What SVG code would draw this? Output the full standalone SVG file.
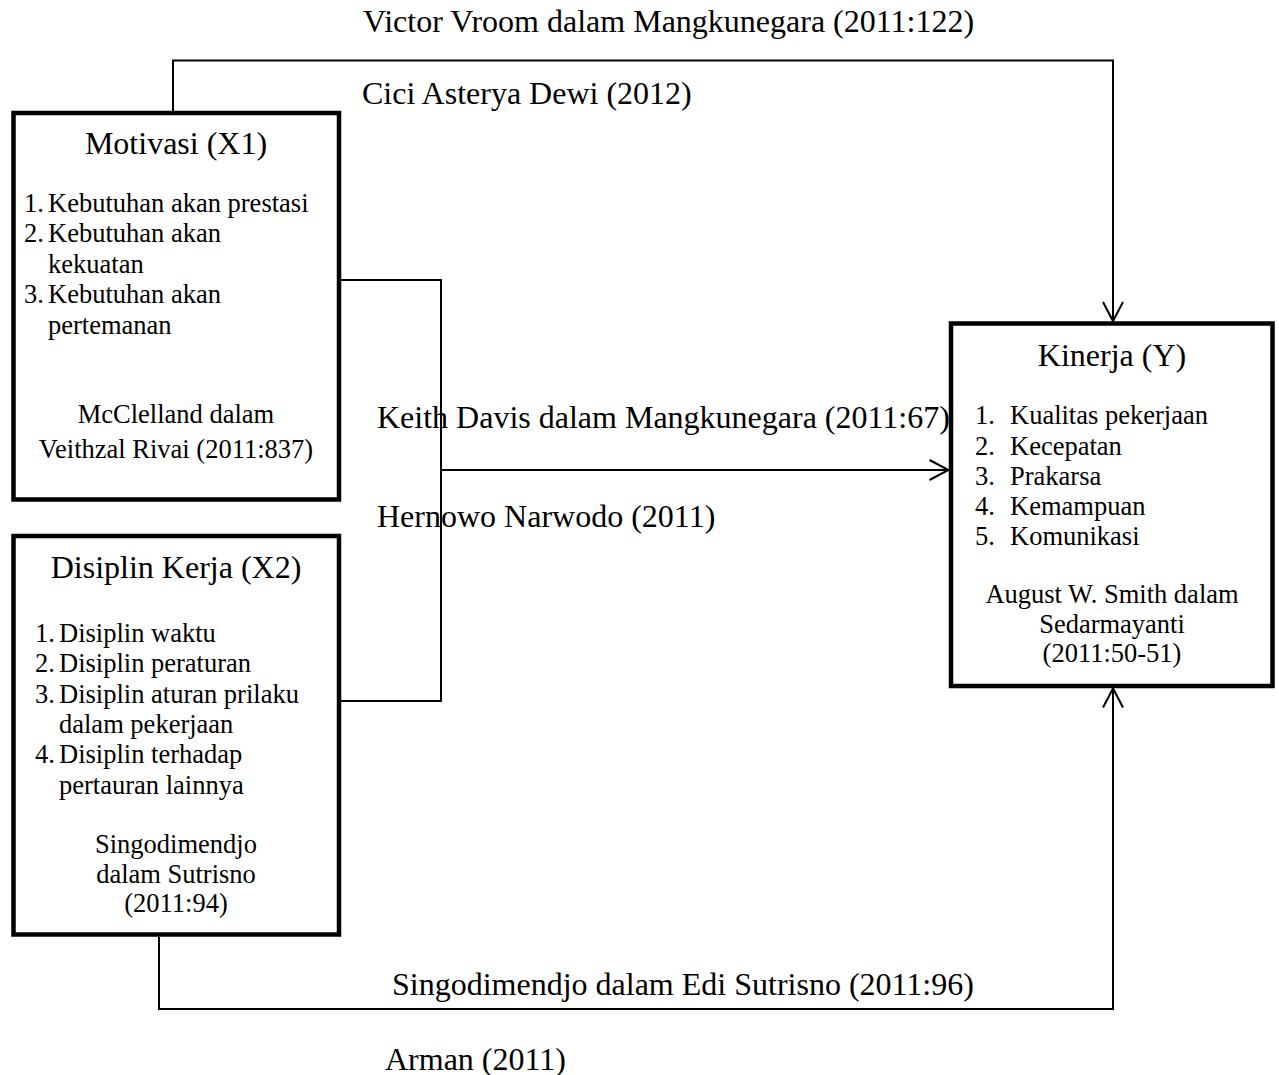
<svg xmlns="http://www.w3.org/2000/svg" width="1279" height="1075" viewBox="0 0 1279 1075">
<style>
text{font-family:"Liberation Serif","Times New Roman",serif;fill:#000}
.t{font-size:32px}
.b{font-size:26.5px}
.c{text-anchor:middle}
.box{fill:#fff;stroke:#000;stroke-width:4.5}
.ln{fill:none;stroke:#000;stroke-width:2}
</style>
<defs>
<marker id="arr" markerUnits="userSpaceOnUse" markerWidth="30" markerHeight="30" viewBox="-25 -15 30 30" refX="0" refY="0" orient="auto" overflow="visible">
<path d="M-19,-10 L0,0 L-19,10" fill="none" stroke="#000" stroke-width="2"/>
</marker>
</defs>
<rect width="1279" height="1075" fill="#fff"/>
<g id="connectors">
<path class="ln" d="M173,111 V60.5 H1113 V321" marker-end="url(#arr)"/>
<path class="ln" d="M159,937 V1009 H1113 V688.5" marker-end="url(#arr)"/>
<path class="ln" d="M341,280 H441 V701 H341"/>
<path class="ln" d="M441,470 H948.5" marker-end="url(#arr)"/>
<text class="t" x="363" y="32">Victor Vroom dalam Mangkunegara (2011:122)</text>
<text class="t" x="362" y="104">Cici Asterya Dewi (2012)</text>
<text class="t" x="377" y="428">Keith Davis dalam Mangkunegara (2011:67)</text>
<text class="t" x="377" y="527">Hernowo Narwodo (2011)</text>
<text class="t" x="392" y="995">Singodimendjo dalam Edi Sutrisno (2011:96)</text>
<text class="t" x="385" y="1070">Arman (2011)</text>
</g>
<g id="motivasi">
<rect class="box" x="13.5" y="113" width="325.5" height="386.5"/>
<text class="t c" x="176" y="154">Motivasi (X1)</text>
<text class="b" x="24" y="211.5">1.</text><text class="b" x="48" y="211.5">Kebutuhan akan prestasi</text>
<text class="b" x="24" y="242">2.</text><text class="b" x="48" y="242">Kebutuhan akan</text>
<text class="b" x="48" y="272.5">kekuatan</text>
<text class="b" x="24" y="303">3.</text><text class="b" x="48" y="303">Kebutuhan akan</text>
<text class="b" x="48" y="333.5">pertemanan</text>
<text class="b c" x="176" y="423">McClelland dalam</text>
<text class="b c" x="176" y="458">Veithzal Rivai (2011:837)</text>
</g>
<g id="disiplin">
<rect class="box" x="13.5" y="536" width="325.5" height="398.5"/>
<text class="t c" x="176" y="578">Disiplin Kerja (X2)</text>
<text class="b" x="35" y="641.5">1.</text><text class="b" x="59" y="641.5">Disiplin waktu</text>
<text class="b" x="35" y="672">2.</text><text class="b" x="59" y="672">Disiplin peraturan</text>
<text class="b" x="35" y="702.5">3.</text><text class="b" x="59" y="702.5">Disiplin aturan prilaku</text>
<text class="b" x="59" y="732.5">dalam pekerjaan</text>
<text class="b" x="35" y="763">4.</text><text class="b" x="59" y="763">Disiplin terhadap</text>
<text class="b" x="59" y="793.5">pertauran lainnya</text>
<text class="b c" x="176" y="853">Singodimendjo</text>
<text class="b c" x="176" y="883">dalam Sutrisno</text>
<text class="b c" x="176" y="912">(2011:94)</text>
</g>
<g id="kinerja">
<rect class="box" x="951" y="323.5" width="321.5" height="362.5"/>
<text class="t c" x="1112" y="366">Kinerja (Y)</text>
<text class="b" x="975" y="423.5">1.</text><text class="b" x="1010" y="423.5">Kualitas pekerjaan</text>
<text class="b" x="975" y="454.5">2.</text><text class="b" x="1010" y="454.5">Kecepatan</text>
<text class="b" x="975" y="484.5">3.</text><text class="b" x="1010" y="484.5">Prakarsa</text>
<text class="b" x="975" y="515">4.</text><text class="b" x="1010" y="515">Kemampuan</text>
<text class="b" x="975" y="545">5.</text><text class="b" x="1010" y="545">Komunikasi</text>
<text class="b c" x="1112" y="603">August W. Smith dalam</text>
<text class="b c" x="1112" y="633">Sedarmayanti</text>
<text class="b c" x="1112" y="662">(2011:50-51)</text>
</g>
</svg>
